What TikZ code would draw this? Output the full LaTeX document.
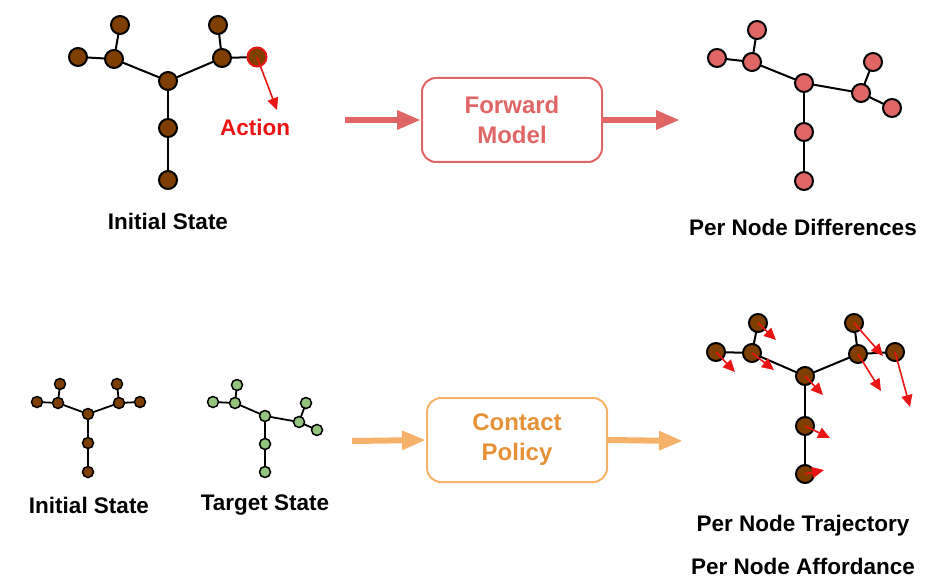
\documentclass[tikz,border=0pt]{standalone}
\usepackage{fontspec}
\setmainfont{Liberation Sans}
\usepackage{tkz-euclide}
\usetikzlibrary{arrows.meta}

\definecolor{nodebrown}{RGB}{127,63,0}
\definecolor{nodesalmon}{RGB}{224,102,102}
\definecolor{nodegreen}{RGB}{147,196,125}
\definecolor{fwdred}{RGB}{224,102,102}
\definecolor{cplight}{RGB}{246,178,107}
\definecolor{cpdark}{RGB}{230,145,56}
\definecolor{actred}{RGB}{235,20,20}

\tikzset{
	bigball/.style={draw=black,line width=2pt},
	smallball/.style={draw=black,line width=1.5pt},
	lbl/.style={font=\fontsize{22.5}{26}\selectfont\bfseries},
	modelbox/.style={rounded corners=14pt,line width=2pt,minimum width=180pt,
		minimum height=84pt,align=center,font=\fontsize{24}{30}\selectfont\bfseries},
	fat/.style={line width=6pt,-{Triangle[length=24pt,width=18pt]}},
	redarrow/.style={actred,line width=1.6pt,-{Triangle[length=12pt,width=11pt]}}
}

\begin{document}
\begin{tikzpicture}[x=1pt,y=-1pt]
		\useasboundingbox (0,0) rectangle (952,585);

		% initial state, top
		\tkzDefPoint(120,25){SLT}
		\tkzDefPoint(78,57){SLL}
		\tkzDefPoint(114,59){SL}
		\tkzDefPoint(168,81){SC}
		\tkzDefPoint(222,58){SR}
		\tkzDefPoint(218,25){SRT}
		\tkzDefPoint(257,57){SA}
		\tkzDefPoint(168,128){SM}
		\tkzDefPoint(168,180){SB}
		\tkzDrawSegments[line width=2pt](SLT,SL SLL,SL SL,SC SC,SR SRT,SR SR,SA SC,SM SM,SB)
		\foreach \p in {SLT,SLL,SL,SC,SR,SRT,SM,SB}
			\filldraw[bigball,fill=nodebrown] (\p) circle (9pt);
		\filldraw[draw=actred,line width=2pt,fill=nodebrown] (SA) circle (9.5pt);
		\draw[redarrow] (SA) -- ++(20,53);
		\node[lbl,text=actred] (action) at (255,127) {Action};
		\node[lbl] (slabel) at (168,221) {Initial State};

		% forward model
		\node[modelbox,draw=fwdred,text=fwdred] (fwd) at (512,120) {Forward\\Model};
		\coordinate (fwdin) at (345,120);
		\coordinate (fwdout) at (680,120);
		\draw[fat,fwdred] (fwdin) -- (fwd.west);
		\draw[fat,fwdred] (fwd.east) -- (fwdout);

		% per node differences
		\tkzDefPoint(757,30){DLT}
		\tkzDefPoint(717,58){DLL}
		\tkzDefPoint(752,62){DL}
		\tkzDefPoint(804,83){DC}
		\tkzDefPoint(861,93){DR}
		\tkzDefPoint(873,62){DRT}
		\tkzDefPoint(892,108){DRR}
		\tkzDefPoint(804,132){DM}
		\tkzDefPoint(804,181){DB}
		\tkzDrawSegments[line width=2pt](DLT,DL DLL,DL DL,DC DC,DR DRT,DR DR,DRR DC,DM DM,DB)
		\foreach \p in {DLT,DLL,DL,DC,DR,DRT,DRR,DM,DB}
			\filldraw[bigball,fill=nodesalmon] (\p) circle (9pt);
		\node[lbl] (dlabel) at (803,227) {Per Node Differences};

		% initial state, bottom
		\tkzDefPoint(60,384){ILT}
		\tkzDefPoint(37,402){ILL}
		\tkzDefPoint(58,403){IL}
		\tkzDefPoint(88,414){IC}
		\tkzDefPoint(119,403){IR}
		\tkzDefPoint(117,384){IRT}
		\tkzDefPoint(140,402){IRR}
		\tkzDefPoint(88,443){IM}
		\tkzDefPoint(88,472){IB}
		\tkzDrawSegments[line width=1.8pt](ILT,IL ILL,IL IL,IC IC,IR IRT,IR IR,IRR IC,IM IM,IB)
		\foreach \p in {ILT,ILL,IL,IC,IR,IRT,IRR,IM,IB}
			\filldraw[smallball,fill=nodebrown] (\p) circle (5.5pt);
		\node[lbl] (ilabel) at (89,505) {Initial State};

		% target state
		\tkzDefPoint(237,385){TLT}
		\tkzDefPoint(213,402){TLL}
		\tkzDefPoint(235,403){TL}
		\tkzDefPoint(265,416){TC}
		\tkzDefPoint(299,422){TR}
		\tkzDefPoint(306,403){TRT}
		\tkzDefPoint(317,430){TRR}
		\tkzDefPoint(265,444){TM}
		\tkzDefPoint(265,472){TB}
		\tkzDrawSegments[line width=1.8pt](TLT,TL TLL,TL TL,TC TC,TR TRT,TR TR,TRR TC,TM TM,TB)
		\foreach \p in {TLT,TLL,TL,TC,TR,TRT,TRR,TM,TB}
			\filldraw[smallball,fill=nodegreen] (\p) circle (5.5pt);
		\node[lbl] (tlabel) at (265,505) {Target State};

		% contact policy
		\node[modelbox,draw=cplight,text=cpdark] (cp) at (517,440) {Contact\\Policy};
		\coordinate (cpin) at (352,441);
		\coordinate (cpout) at (683,441);
		\draw[fat,cplight] (cpin) -- (cp.west);
		\draw[fat,cplight] (cp.east) -- (cpout);

		% per node trajectory / affordance
		\tkzDefPoint(758,323){PLT}
		\tkzDefPoint(716,352){PLL}
		\tkzDefPoint(752,353){PL}
		\tkzDefPoint(805,376){PC}
		\tkzDefPoint(858,354){PR}
		\tkzDefPoint(854,323){PRT}
		\tkzDefPoint(895,352){PRR}
		\tkzDefPoint(805,426){PM}
		\tkzDefPoint(805,474){PB}
		\tkzDrawSegments[line width=2pt](PLT,PL PLL,PL PL,PC PC,PR PRT,PR PR,PRR PC,PM PM,PB)
		\foreach \p in {PLT,PLL,PL,PC,PR,PRT,PRR,PM,PB}
			\filldraw[bigball,fill=nodebrown] (\p) circle (9pt);
		\foreach \p/\dx/\dy in {PLT/18/17,PLL/19/20,PL/22/17,PC/18/19,PRT/29/33,
			PR/23/37,PRR/15/55,PM/25/12,PB/19/-4}
			\draw[redarrow] (\p) -- ++(\dx,\dy);
		\node[lbl] (plabel) at (803,526) {Per Node Trajectory};
		\node[lbl] (alabel) at (803,566) {Per Node Affordance};
	\end{tikzpicture}
\end{document}
